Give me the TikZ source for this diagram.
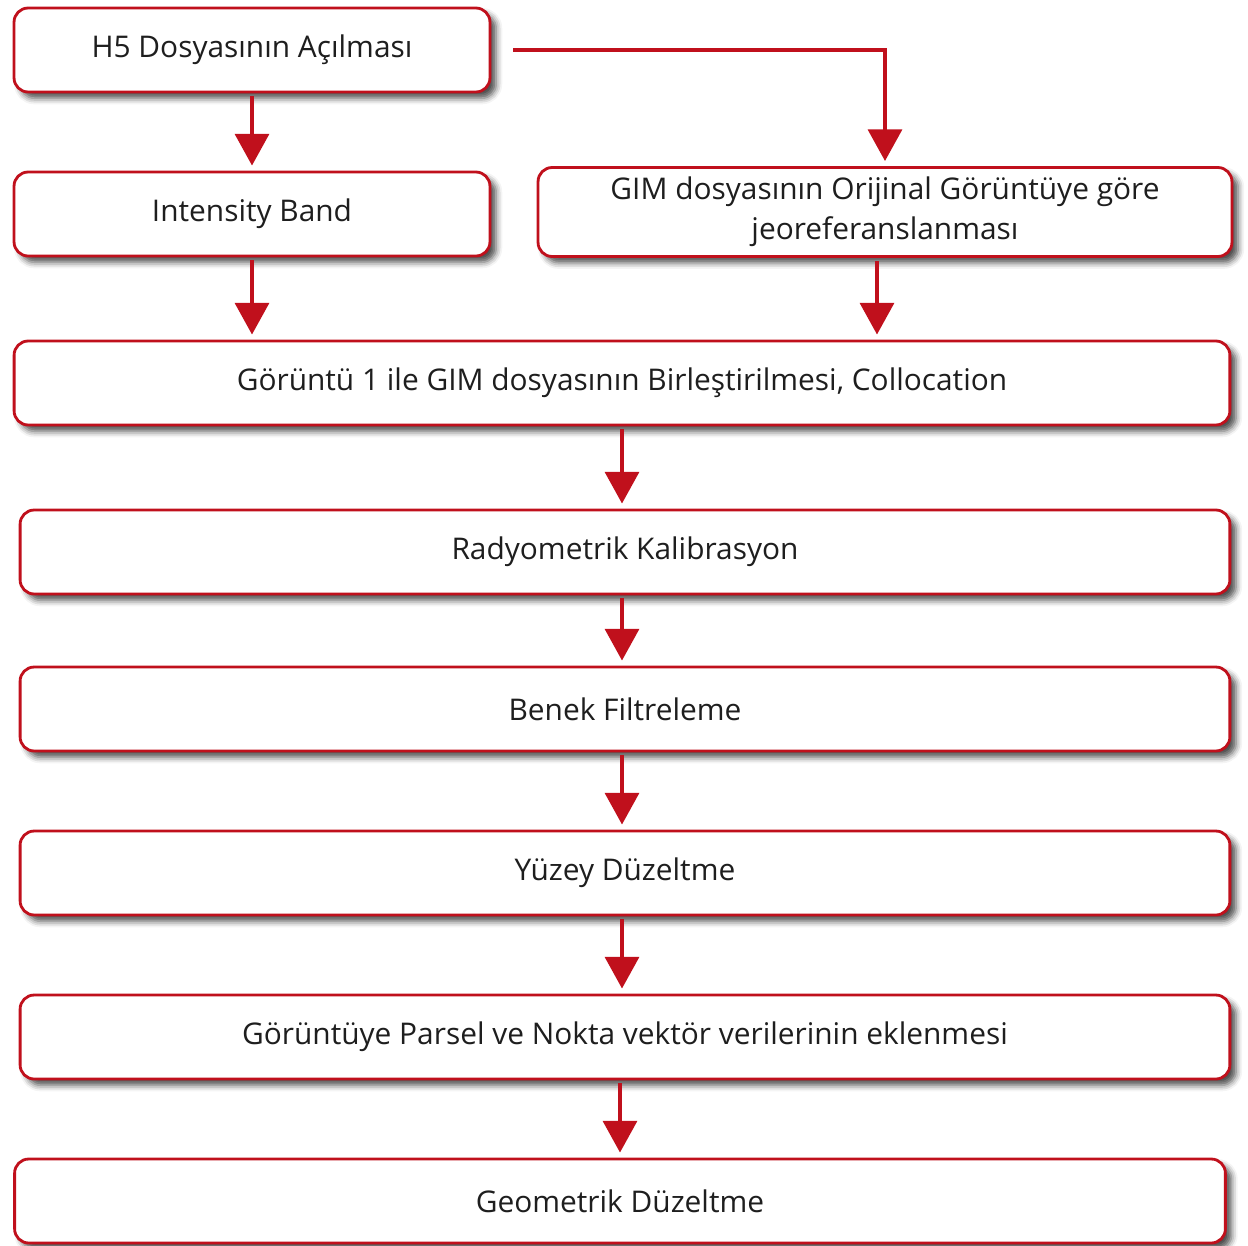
\documentclass[tikz,border=0pt]{standalone}
\usepackage{fontspec}
\setmainfont{Open Sans}
\definecolor{flred}{RGB}{192,16,28}
\definecolor{fltext}{RGB}{30,30,30}
\usetikzlibrary{arrows.meta,positioning,shadows.blur}

\begin{document}
\begin{tikzpicture}[x=0.02cm,y=-0.02cm,
    box/.style={draw=flred,line width=1.6pt,rounded corners=8pt,fill=white,
      blur shadow={shadow xshift=3.5pt,shadow yshift=-3.5pt,shadow blur radius=3.5pt,shadow opacity=70},
      inner sep=0pt,align=center,text=fltext,minimum height=1.68cm,
      font=\fontsize{17}{22.8}\selectfont},
    flow/.style={flred,line width=2.8pt,-{Triangle[width=19pt,length=18pt]},
      shorten <=0.06cm,shorten >=0.1cm}]
  \useasboundingbox (0,0) rectangle (1248,1245);
  % upper part
  \node[box,minimum width=9.52cm] (h5) at (252,50) {H5 Dosyasının Açılması};
  \node[box,minimum width=9.52cm] (band) at (252,214) {Intensity Band};
  \node[box,minimum width=13.88cm,minimum height=1.78cm] (gim) at (885,212)
    {GIM dosyasının Orijinal Görüntüye göre\\jeoreferanslanması};
  % main column
  \node[box,minimum width=24.32cm] (coll) at (622,383) {Görüntü 1 ile GIM dosyasının Birleştirilmesi, Collocation};
  \node[box,minimum width=24.2cm] (radyo) at (625,552) {Radyometrik Kalibrasyon};
  \node[box,minimum width=24.2cm] (benek) at (625,709) {Benek Filtreleme};
  \node[box,minimum width=24.2cm] (yuzey) at (625,873) {Yüzey Düzeltme};
  \node[box,minimum width=24.2cm] (parsel) at (625,1037) {Görüntüye Parsel ve Nokta vektör verilerinin eklenmesi};
  \node[box,minimum width=24.22cm] (geo) at (620,1201) {Geometrik Düzeltme};
  % connectors
  \draw[flow] (h5) -- (band);
  \draw[flow,shorten <=0.44cm] (h5.east) -| (gim.north);
  \draw[flow] (band) -- (band.south |- coll.north);
  \draw[flow] ([xshift=-0.16cm]gim.south) -- ([xshift=-0.16cm]gim.south |- coll.north);
  \draw[flow] (coll) -- (coll.south |- radyo.north);
  \draw[flow] (coll.south |- radyo.south) -- (coll.south |- benek.north);
  \draw[flow] (coll.south |- benek.south) -- (coll.south |- yuzey.north);
  \draw[flow] (coll.south |- yuzey.south) -- (coll.south |- parsel.north);
  \draw[flow] (geo.north |- parsel.south) -- (geo);
\end{tikzpicture}
\end{document}
